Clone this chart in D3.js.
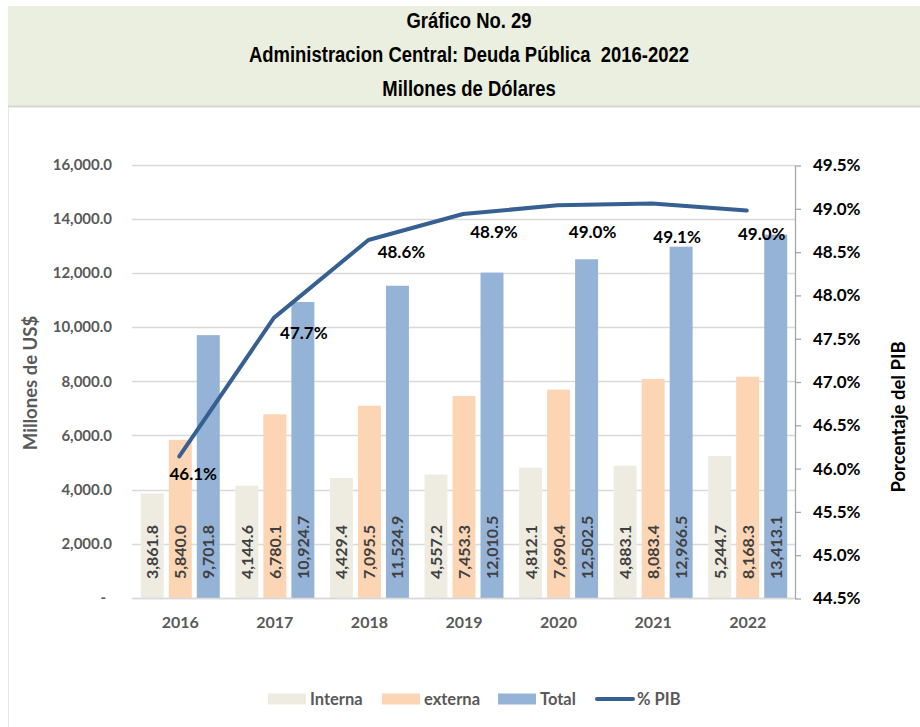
<!DOCTYPE html>
<html>
<head>
<meta charset="utf-8">
<script src="https://cdn.jsdelivr.net/npm/d3@7"></script>
<style>
  html, body { margin: 0; padding: 0; background: #ffffff; }
  svg { display: block; }
</style>
</head>
<body>
<svg id="chart" width="920" height="727"></svg>
<script>
// Deuda pública de la Administración Central, millones de US$
const years = ["2016", "2017", "2018", "2019", "2020", "2021", "2022"];
const interna = [3861.8, 4144.6, 4429.4, 4557.2, 4812.1, 4883.1, 5244.7];
const externa = [5840.0, 6780.1, 7095.5, 7453.3, 7690.4, 8083.4, 8168.3];
const total = [9701.8, 10924.7, 11524.9, 12010.5, 12502.5, 12966.5, 13413.1];
// Deuda como porcentaje del PIB
const pib = [46.14, 47.74, 48.64, 48.94, 49.04, 49.06, 48.98];

const leftTicks = [0, 2000, 4000, 6000, 8000, 10000, 12000, 14000, 16000];
const rightTicks = [44.5, 45.0, 45.5, 46.0, 46.5, 47.0, 47.5, 48.0, 48.5, 49.0, 49.5];

const titleLines = [
  "Gráfico No. 29",
  "Administracion Central: Deuda Pública  2016-2022",
  "Millones de Dólares"
];

const seriesNames = ["Interna", "externa", "Total"];
const seriesColors = ["#EEECE1", "#FCD5B5", "#95B3D7"];
const lineColor = "#376092";

const svg = d3.select("#chart");
const W = 920, H = 727;
const plot = { left: 133, right: 795, top: 164.5, bottom: 598 };
const sans = "Lato, 'Open Sans', sans-serif";
const titleFont = "'Liberation Sans Narrow', 'Arial Narrow', 'Liberation Sans', sans-serif";

svg.append("rect").attr("width", W).attr("height", H).attr("fill", "#ffffff");

// title band
svg.append("rect").attr("x", 8).attr("y", 6).attr("width", W - 8).attr("height", 100)
  .attr("fill", "#EBEFDF");
svg.append("line").attr("x1", 8).attr("x2", W).attr("y1", 106.5).attr("y2", 106.5)
  .attr("stroke", "#D6D6D6").attr("stroke-width", 2);
svg.append("line").attr("x1", 8.5).attr("x2", 8.5).attr("y1", 107).attr("y2", H)
  .attr("stroke", "#E6E6E6").attr("stroke-width", 1);

// condensed title lines
svg.append("g").attr("transform", "translate(469,0) scale(0.84,1)")
  .selectAll("text").data(titleLines).join("text")
  .attr("x", 0).attr("y", (d, i) => 28 + i * 34)
  .attr("text-anchor", "middle")
  .style("white-space", "pre")
  .attr("font-family", titleFont).attr("font-weight", "bold").attr("font-size", 22)
  .attr("fill", "#000")
  .text(d => d);

// scales
const x0 = d3.scaleBand().domain(years).range([plot.left, plot.right])
  .paddingInner(0.165).paddingOuter(0.0825);
const x1 = d3.scaleBand().domain(d3.range(3)).range([0, x0.bandwidth()]).paddingInner(0.18);
const yL = d3.scaleLinear().domain([0, 16000]).range([plot.bottom, plot.top]);
const yR = d3.scaleLinear().domain([44.5, 49.5]).range([plot.bottom + 0.5, plot.top + 1]);

// gridlines
svg.append("g").selectAll("line").data(leftTicks).join("line")
  .attr("x1", plot.left - 1).attr("x2", plot.right)
  .attr("y1", d => Math.round(yL(d)) + 0.5).attr("y2", d => Math.round(yL(d)) + 0.5)
  .attr("stroke", "#D9D9D9").attr("stroke-width", 1.5);

// left axis labels
const fmtL = d => d === 0 ? "-" : d3.format(",.1f")(d);
const gL = svg.append("g").attr("transform", `translate(${plot.left},0)`)
  .call(d3.axisLeft(yL).tickValues(leftTicks).tickFormat(fmtL).tickSize(0).tickPadding(21));
gL.select(".domain").remove();
gL.selectAll("text").attr("font-family", sans).attr("font-weight", "bold")
  .attr("font-size", 15).attr("fill", "#595959").attr("dx", d => d === 0 ? -6 : 0);

// right axis
const gR = svg.append("g").attr("transform", `translate(${plot.right},0)`)
  .call(d3.axisRight(yR).tickValues(rightTicks).tickFormat(d => d3.format(".1f")(d) + "%")
    .tickSize(6).tickSizeOuter(0).tickPadding(12));
gR.select(".domain").attr("stroke", "#A6A6A6").attr("stroke-width", 1.3);
gR.selectAll(".tick line").attr("stroke", "#A6A6A6").attr("stroke-width", 1.3);
gR.selectAll("text").attr("font-family", sans).attr("font-weight", "bold")
  .attr("font-size", 17).attr("fill", "#000");

// bars
const groups = svg.append("g").selectAll("g").data(years).join("g")
  .attr("transform", d => `translate(${x0(d)},0)`);
const barData = i => [interna[i], externa[i], total[i]].map((v, k) => ({ v, k }));
groups.each(function (yr, i) {
  const g = d3.select(this);
  const bd = barData(i);
  g.selectAll("rect").data(bd).join("rect")
    .attr("x", d => x1(d.k)).attr("width", x1.bandwidth())
    .attr("y", d => yL(d.v)).attr("height", d => yL(0) - yL(d.v))
    .attr("fill", d => seriesColors[d.k]);
  g.selectAll("text").data(bd).join("text")
    .attr("transform", d => `translate(${x1(d.k) + x1.bandwidth() / 2 + 6},${plot.bottom - 19}) rotate(-90)`)
    .attr("text-anchor", "start")
    .attr("font-family", sans).attr("font-weight", "bold").attr("font-size", 16)
    .attr("fill", "#404040")
    .text(d => d3.format(",.1f")(d.v));
});

// bottom axis
svg.append("line").attr("x1", plot.left).attr("x2", plot.right)
  .attr("y1", plot.bottom + 0.5).attr("y2", plot.bottom + 0.5)
  .attr("stroke", "#D9D9D9").attr("stroke-width", 1.5);
svg.append("g").selectAll("text").data(years).join("text")
  .attr("x", d => x0(d) + x0.bandwidth() / 2).attr("y", 628)
  .attr("text-anchor", "middle")
  .attr("font-family", sans).attr("font-weight", "bold").attr("font-size", 16)
  .attr("fill", "#595959")
  .text(d => d);

// % PIB line
const cx = (d, i) => x0(years[i]) + x0.bandwidth() / 2 - 1;
const line = d3.line().x(cx).y(d => yR(d));
svg.append("path").datum(pib).attr("d", line)
  .attr("fill", "none").attr("stroke", lineColor).attr("stroke-width", 4)
  .attr("stroke-linejoin", "round").attr("stroke-linecap", "round");

// labels for the line, nudged off each point
const nudge = [[14, 24], [30, 21], [33, 18], [31, 24], [35, 33], [25, 39], [15, 29]];
svg.append("g").selectAll("text").data(pib).join("text")
  .attr("x", (d, i) => cx(d, i) + nudge[i][0])
  .attr("y", (d, i) => yR(d) + nudge[i][1])
  .attr("text-anchor", "middle")
  .attr("font-family", sans).attr("font-weight", "bold").attr("font-size", 17)
  .attr("fill", "#000")
  .text(d => d3.format(".1f")(d) + "%");

// axis titles
svg.append("text")
  .attr("transform", "translate(37,383) rotate(-90)")
  .attr("text-anchor", "middle")
  .attr("font-family", sans).attr("font-weight", "bold").attr("font-size", 18.5)
  .attr("fill", "#595959")
  .text("Millones de US$");
svg.append("text")
  .attr("transform", "translate(905,417) rotate(-90)")
  .attr("text-anchor", "middle")
  .attr("font-family", sans).attr("font-weight", "bold").attr("font-size", 18.5)
  .attr("fill", "#000")
  .text("Porcentaje del PIB");

// legend
const legendX = [268, 382, 498, 596];
const legendItems = seriesNames.map((n, k) => ({ n, k, type: "bar" }))
  .concat([{ n: "% PIB", k: 3, type: "line" }]);
const lg = svg.append("g").selectAll("g").data(legendItems).join("g")
  .attr("transform", (d, i) => `translate(${legendX[i]},699)`);
lg.filter(d => d.type === "bar").append("rect")
  .attr("x", 0).attr("y", -5.5).attr("width", 38).attr("height", 11)
  .attr("fill", d => seriesColors[d.k]);
lg.filter(d => d.type === "line").append("line")
  .attr("x1", 1).attr("x2", 37).attr("y1", 0).attr("y2", 0)
  .attr("stroke", lineColor).attr("stroke-width", 4).attr("stroke-linecap", "round");
lg.append("text")
  .attr("x", d => d.type === "line" ? 41 : 42).attr("y", 6)
  .attr("font-family", sans).attr("font-weight", "bold").attr("font-size", 16.5)
  .attr("fill", "#595959")
  .text(d => d.n);
</script>
</body>
</html>
